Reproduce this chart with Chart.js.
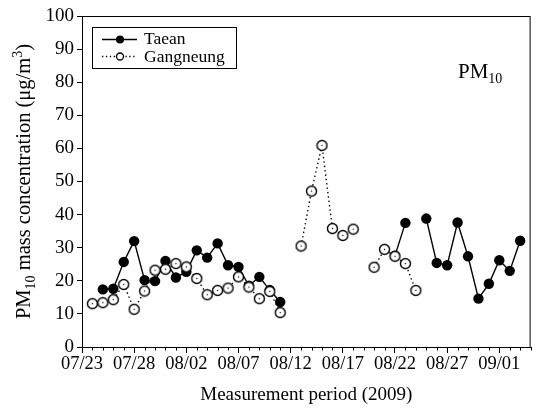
<!DOCTYPE html>
<html lang="en">
<head>
    <meta charset="UTF-8">
    <title>PM10 mass concentration</title>
    <script src="https://cdn.jsdelivr.net/npm/chart.js"></script>
    <style>
        body { margin: 0; background: #fff; }
        .chart-container { width: 536px; height: 412px; }
    </style>
</head>
<body>
    <div class="chart-container">
        <canvas id="pmChart"></canvas>
    </div>

    <script>
        // one value per day, day 0 = 07/23/2009 ... day 43 = 09/04/2009
        const tickLabels = ['07/23', '07/28', '08/02', '08/07', '08/12', '08/17', '08/22', '08/27', '09/01'];
        const yTicks = [0, 10, 20, 30, 40, 50, 60, 70, 80, 90, 100];

        const taean = [
            null, null, 17.4, 17.6, 25.7, 32.0, 20.2, 19.9, 26.0, 21.0,   // 07/23 - 08/01
            22.7, 29.2, 27.0, 31.3, 24.7, 24.2, 18.5, 21.2, 17.2, 13.6,   // 08/02 - 08/11
            null, null, null, null, null, null, null, null, null, null,   // 08/12 - 08/21
            27.6, 37.5, null, 38.8, 25.4, 24.7, 37.6, 27.4, 14.6, 19.1,   // 08/22 - 08/31
            26.2, 23.0, 32.1, null                                        // 09/01 - 09/04
        ];
        const gangneung = [
            null, 13.1, 13.4, 14.3, 18.9, 11.4, 16.9, 23.2, 23.5, 25.2,
            24.2, 20.7, 15.8, 17.1, 17.8, 21.2, 18.1, 14.6, 16.8, 10.4,
            null, 30.5, 47.1, 60.9, 35.8, 33.7, 35.6, null, 24.1, 29.5,
            27.4, 25.2, 17.1, null, null, null, null, null, null, null,
            null, null, null, null
        ];

        const serif = "'Liberation Serif', 'Times New Roman', serif";

        // open circle with a tiny dot in the middle
        function openCircle(r) {
            const c = document.createElement('canvas');
            const s = Math.ceil(r * 2 + 3);
            c.width = s; c.height = s;
            const g = c.getContext('2d');
            g.beginPath();
            g.arc(s / 2, s / 2, r, 0, Math.PI * 2);
            g.fillStyle = '#fff';
            g.fill();
            g.lineWidth = 1.4;
            g.strokeStyle = '#000';
            g.stroke();
            g.fillStyle = '#000';
            g.fillRect(s / 2 - 0.6, s / 2 - 0.6, 1.2, 1.2);
            return c;
        }

        const toPoints = arr => arr.map((v, i) => ({ x: i, y: v }));

        // frame, minor ticks, legend, y title and PM10 label
        const decorations = {
            id: 'decorations',
            afterDraw(chart) {
                const ctx = chart.ctx;
                const a = chart.chartArea;
                const xs = chart.scales.x;
                ctx.save();
                ctx.strokeStyle = '#000';
                ctx.lineWidth = 1;
                ctx.strokeRect(a.left + 0.5, a.top + 0.5, a.right - a.left - 1, a.bottom - a.top);

                // minor ticks every day
                ctx.beginPath();
                for (let d = 0; d <= 43; d++) {
                    if (d % 5 === 0) continue;
                    const px = Math.round(xs.getPixelForValue(d)) + 0.5;
                    ctx.moveTo(px, a.bottom);
                    ctx.lineTo(px, a.bottom + 3.5);
                }
                ctx.stroke();

                // legend box
                ctx.strokeRect(92.5, 27.5, 144, 41);
                ctx.lineWidth = 1.3;
                ctx.beginPath();
                ctx.moveTo(102, 39.5); ctx.lineTo(137, 39.5);
                ctx.stroke();
                ctx.beginPath();
                ctx.arc(120, 39.5, 4, 0, Math.PI * 2);
                ctx.fillStyle = '#000';
                ctx.fill();
                ctx.setLineDash([1.3, 2.6]);
                ctx.beginPath();
                ctx.moveTo(102, 56.5); ctx.lineTo(137, 56.5);
                ctx.stroke();
                ctx.setLineDash([]);
                ctx.beginPath();
                ctx.arc(120, 56.5, 3.5, 0, Math.PI * 2);
                ctx.fillStyle = '#fff';
                ctx.fill();
                ctx.stroke();
                ctx.fillStyle = '#000';
                ctx.font = '17.5px ' + serif;
                ctx.textBaseline = 'middle';
                ctx.textAlign = 'left';
                ctx.fillText('Taean', 144, 39.5);
                ctx.fillText('Gangneung', 144, 57);

                // PM10 label
                ctx.textBaseline = 'alphabetic';
                ctx.font = '21px ' + serif;
                ctx.fillText('PM', 458, 78);
                const pmW = ctx.measureText('PM').width;
                ctx.font = '14px ' + serif;
                ctx.fillText('10', 458 + pmW, 83);

                // y axis title, rotated
                const parts = [
                    { t: 'PM', size: 20.5, dy: 0 },
                    { t: '10', size: 14, dy: 5 },
                    { t: ' mass concentration (\u03bcg/m', size: 20.5, dy: 0 },
                    { t: '3', size: 14, dy: -8 },
                    { t: ')', size: 20.5, dy: 0 }
                ];
                let total = 0;
                parts.forEach(p => {
                    ctx.font = p.size + 'px ' + serif;
                    p.w = ctx.measureText(p.t).width;
                    total += p.w;
                });
                ctx.translate(30, (a.top + a.bottom) / 2);
                ctx.rotate(-Math.PI / 2);
                let cx = -total / 2;
                parts.forEach(p => {
                    ctx.font = p.size + 'px ' + serif;
                    ctx.fillText(p.t, cx, p.dy);
                    cx += p.w;
                });
                ctx.restore();
            }
        };

        const ctx = document.getElementById('pmChart').getContext('2d');
        new Chart(ctx, {
            type: 'line',
            data: {
                datasets: [{
                    label: 'Taean',
                    data: toPoints(taean),
                    borderColor: '#000',
                    borderWidth: 1.4,
                    backgroundColor: '#000',
                    pointRadius: 5.2,
                    pointBorderWidth: 0,
                    pointBackgroundColor: '#000',
                    spanGaps: false,
                    tension: 0,
                    order: 1
                }, {
                    label: 'Gangneung',
                    data: toPoints(gangneung),
                    borderColor: '#000',
                    borderWidth: 1.4,
                    borderDash: [1.4, 3],
                    pointStyle: openCircle(5),
                    spanGaps: false,
                    tension: 0,
                    order: 0
                }]
            },
            options: {
                responsive: true,
                maintainAspectRatio: false,
                animation: false,
                layout: { padding: { top: 16, right: 4, bottom: 6, left: 0 } },
                plugins: {
                    legend: { display: false },
                    tooltip: { enabled: false }
                },
                scales: {
                    x: {
                        type: 'linear',
                        min: 0,
                        max: 43,
                        afterBuildTicks: scale => {
                            scale.ticks = tickLabels.map((_, i) => ({ value: i * 5 }));
                        },
                        afterFit: scale => { scale.height = 59; },
                        ticks: {
                            color: '#000',
                            font: { family: serif, size: 18.5 },
                            padding: 0,
                            maxRotation: 0,
                            autoSkip: false,
                            callback: value => tickLabels[value / 5]
                        },
                        grid: {
                            drawOnChartArea: false,
                            tickLength: 6,
                            tickColor: '#000'
                        },
                        border: { color: '#000', width: 1 },
                        title: {
                            display: true,
                            text: 'Measurement period (2009)',
                            color: '#000',
                            font: { family: serif, size: 19 },
                            padding: { top: 13, bottom: 0 }
                        }
                    },
                    y: {
                        min: 0,
                        max: 100,
                        afterBuildTicks: scale => {
                            scale.ticks = yTicks.map(v => ({ value: v }));
                        },
                        afterFit: scale => { scale.width = 82; },
                        ticks: {
                            color: '#000',
                            font: { family: serif, size: 19 },
                            padding: 3
                        },
                        grid: {
                            drawOnChartArea: false,
                            tickLength: 5,
                            tickColor: '#000'
                        },
                        border: { color: '#000', width: 1 }
                    }
                }
            },
            plugins: [decorations]
        });
    </script>
</body>
</html>
